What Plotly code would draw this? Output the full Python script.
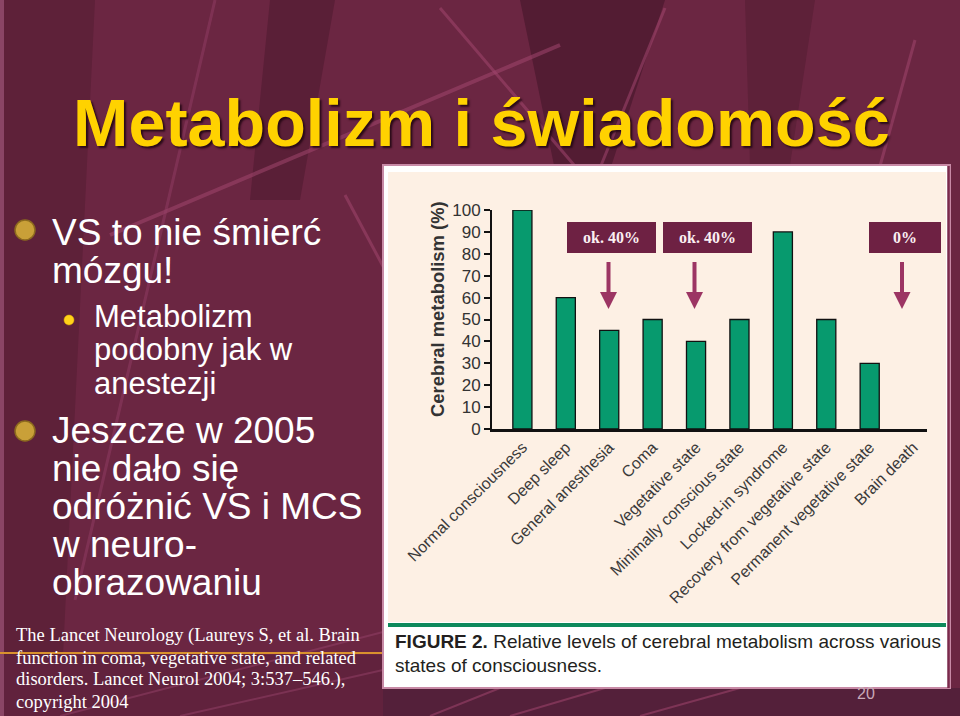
import plotly.graph_objects as go

W, H = 960, 716


def px(x):
    return x / W


def py(y):
    return 1 - y / H


# ---------------- data ----------------
categories = [
    "Normal consciousness",
    "Deep sleep",
    "General anesthesia",
    "Coma",
    "Vegetative state",
    "Minimally conscious state",
    "Locked-in syndrome",
    "Recovery from vegetative state",
    "Permanent vegetative state",
    "Brain death",
]
values = [100, 60, 45, 50, 40, 50, 90, 50, 30, 0]
y_ticks = [0, 10, 20, 30, 40, 50, 60, 70, 80, 90, 100]
box_labels = ["ok. 40%", "ok. 40%", "0%"]

title_text = "Metabolizm i świadomość"
main_bullet_1 = ["VS to nie śmierć", "mózgu!"]
sub_bullet = ["Metabolizm", "podobny jak w", "anestezji"]
main_bullet_2 = ["Jeszcze w 2005", "nie dało się", "odróżnić VS i MCS", "w neuro-", "obrazowaniu"]
reference_lines = [
    "The Lancet Neurology (Laureys S, et al. Brain",
    "function in coma, vegetative state, and related",
    "disorders. Lancet Neurol 2004; 3:537–546.),",
    "copyright 2004",
]
caption_1 = "<b>FIGURE 2.</b> Relative levels of cerebral metabolism across various"
caption_2 = "states of consciousness."
y_title = "Cerebral metabolism (%)"
slide_number = "20"

# ---------------- colours ----------------
BG = "#6B2642"
DARK = "#5A1F37"
LIGHTLINE = "rgba(160,70,110,0.55)"
CREAM = "#FDF0E4"
GREEN = "#079A6E"
BOXC = "#6E2143"
ARROWC = "#9C3563"
SANS = "Liberation Sans, Arial, sans-serif"
SERIF = "Liberation Serif, Times New Roman, serif"

fig = go.Figure()
fig.add_trace(
    go.Bar(
        x=categories,
        y=values,
        width=0.44,
        marker=dict(color=GREEN,
                    line=dict(color="#111111", width=[1.3 if v > 0 else 0 for v in values])),
        hoverinfo="skip",
    )
)

shapes = []


def poly(points, fill, layer="below"):
    d = "M " + " L ".join(f"{px(x):.5f},{py(y):.5f}" for x, y in points) + " Z"
    shapes.append(dict(type="path", path=d, xref="paper", yref="paper",
                       fillcolor=fill, line=dict(width=0), layer=layer))


def seg(x0, y0, x1, y1, color, width, layer="below"):
    shapes.append(dict(type="line", xref="paper", yref="paper",
                       x0=px(x0), y0=py(y0), x1=px(x1), y1=py(y1),
                       line=dict(color=color, width=width), layer=layer))


def rect(x0, y0, x1, y1, fill, layer="below", line=None):
    shapes.append(dict(type="rect", xref="paper", yref="paper",
                       x0=px(x0), y0=py(y0), x1=px(x1), y1=py(y1),
                       fillcolor=fill, line=line or dict(width=0), layer=layer))


def circ(cx, cy, r, fill, lc, lw=1):
    shapes.append(dict(type="circle", xref="paper", yref="paper",
                       x0=px(cx - r), y0=py(cy + r), x1=px(cx + r), y1=py(cy - r),
                       fillcolor=fill, line=dict(color=lc, width=lw), layer="below"))


# background decoration: darker tilted bands
poly([(0, 0), (95, 0), (60, 716), (0, 716)], "#5E2139")
poly([(270, 0), (335, 0), (300, 200), (250, 200)], DARK)
poly([(520, 0), (665, 0), (610, 170), (555, 170)], "#531C33")
poly([(745, 0), (815, 0), (790, 165), (750, 165)], "#5E2139")
poly([(0, 655), (383, 655), (383, 716), (0, 716)], "#61223D")
rect(383, 688, 960, 716, "#54203A")
rect(0, 0, 4, 716, "#8A4565")
# light diagonal lines
seg(110, 235, 560, 45, LIGHTLINE, 4)
seg(440, 8, 580, 172, LIGHTLINE, 3)
seg(665, 8, 600, 168, LIGHTLINE, 3)
seg(215, 0, 75, 600, "rgba(150,65,105,0.45)", 3)
seg(345, 195, 385, 270, LIGHTLINE, 3)
seg(915, 40, 880, 166, LIGHTLINE, 3)
seg(60, 716, 383, 632, "rgba(150,65,105,0.5)", 2)
seg(180, 716, 383, 670, "rgba(150,65,105,0.5)", 2)
seg(430, 716, 500, 688, LIGHTLINE, 2)
seg(510, 716, 605, 688, LIGHTLINE, 2)
seg(640, 716, 740, 688, LIGHTLINE, 2)
# orange rule
seg(0, 653, 383, 653, "#D9922E", 2)

# figure panel
rect(382, 164, 951, 689, "#C88AA6")
rect(384, 166, 948, 687, "#FFFFFF")
rect(388, 172, 946, 622, CREAM)
rect(388, 623, 946, 627, "#0E8A5C")
seg(948.5, 166, 948.5, 688, "#7A2A4C", 2.5)

# bullets
circ(25, 230, 10, "#C9A038", "#8C6A1E", 1.5)
circ(25, 431, 10, "#C9A038", "#8C6A1E", 1.5)
circ(69, 320, 5, "#FFD21A", "#E0B000", 0.5)

# arrows and label boxes (pixel positions)
box_pos = [(567, 656), (663, 752), (869, 941)]
arrow_x = [608.5, 694.5, 902]
for (bx0, bx1) in box_pos:
    rect(bx0, 222, bx1, 253, BOXC, layer="above")
for ax in arrow_x:
    seg(ax, 262, ax, 294, ARROWC, 4, layer="above")
    poly([(ax - 8.5, 292), (ax + 8.5, 292), (ax, 309)], ARROWC, layer="above")

annotations = []


def text(x, y_base, s, size, family, color, xanchor="left", ratio=0.346, **kw):
    annotations.append(dict(x=px(x), y=py(y_base - ratio * size), xref="paper", yref="paper",
                            text=s, showarrow=False, xanchor=xanchor, yanchor="middle",
                            font=dict(size=size, family=family, color=color), **kw))


# title
annotations.append(dict(x=px(481), y=py(146 - 0.346 * 66.5), xref="paper", yref="paper",
                        text="<b>" + title_text + "</b>", showarrow=False,
                        xanchor="center", yanchor="middle",
                        font=dict(size=66.5, family=SANS, color="#FFD200",
                                  shadow="2px 2px 2px #2A0A18")))

# left text
for i, s in enumerate(main_bullet_1):
    text(50, 245 + 38 * i, s, 37, SANS, "#FFFFFF")
for i, s in enumerate(sub_bullet):
    text(92, 327 + 33.5 * i, s, 31, SANS, "#FFFFFF")
for i, s in enumerate(main_bullet_2):
    text(50, 443 + 38 * i, s, 37, SANS, "#FFFFFF")

# reference
for i, s in enumerate(reference_lines):
    text(14, 642 + 22 * i, s, 18.5, SERIF, "#FFFFFF", ratio=0.338)

# caption
text(393, 648, caption_1, 19, SANS, "#231F20")
text(393, 672, caption_2, 19, SANS, "#231F20")
text(866, 699, slide_number, 16, SANS, "#C9A9B8", xanchor="center")

# y axis title
annotations.append(dict(x=px(437), y=py(309), xref="paper", yref="paper",
                        text="<b>" + y_title + "</b>", showarrow=False, textangle=-90,
                        xanchor="center", yanchor="middle",
                        font=dict(size=18.4, family=SANS, color="#333333")))

# boxes' labels
for (bx0, bx1), lab in zip(box_pos, box_labels):
    annotations.append(dict(x=px((bx0 + bx1) / 2), y=py(237.5), xref="paper", yref="paper",
                            text="<b>" + lab + "</b>", showarrow=False,
                            xanchor="center", yanchor="middle",
                            font=dict(size=16, family=SERIF, color="#FBEFF2")))

fig.update_layout(
    width=W,
    height=H,
    margin=dict(l=0, r=0, t=0, b=0, pad=0, autoexpand=False),
    paper_bgcolor=BG,
    plot_bgcolor="rgba(0,0,0,0)",
    showlegend=False,
    shapes=shapes,
    annotations=annotations,
    xaxis=dict(
        domain=[px(492), px(927)],
        range=[-0.70, 9.32],
        showline=True,
        linecolor="#111111",
        linewidth=2.5,
        ticks="",
        showgrid=False,
        zeroline=False,
        tickangle=-45,
        automargin=False,
        tickfont=dict(size=16, family=SANS, color="#3A3A3A"),
        fixedrange=True,
    ),
    yaxis=dict(
        domain=[py(429), py(210)],
        range=[0, 100],
        tickvals=y_ticks,
        showline=True,
        linecolor="#111111",
        linewidth=2,
        ticks="outside",
        ticklen=6,
        tickwidth=2,
        tickcolor="#111111",
        showgrid=False,
        zeroline=False,
        automargin=False,
        tickfont=dict(size=17, family=SANS, color="#333333"),
        fixedrange=True,
    ),
)

fig.write_html("out.html", config={"displayModeBar": False})
